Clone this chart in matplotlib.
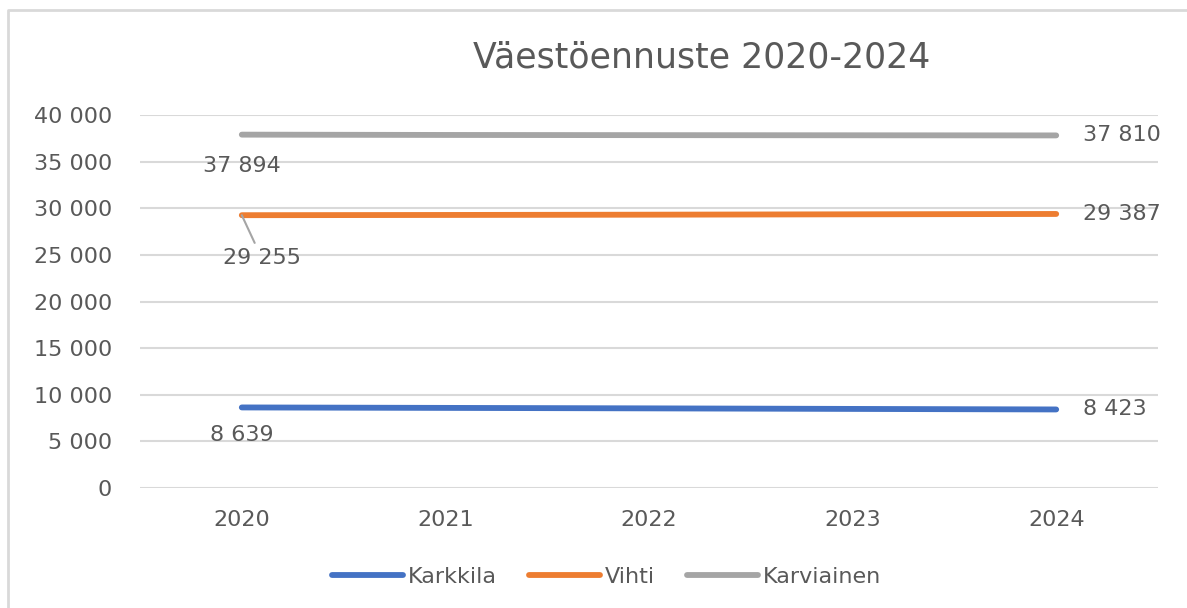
import matplotlib.pyplot as plt
from matplotlib.lines import Line2D
from matplotlib.ticker import FuncFormatter, MultipleLocator

plt.rcParams['font.family'] = ['DejaVu Sans']

years = ['2020', '2021', '2022', '2023', '2024']
karkkila = [8639, 8590, 8540, 8480, 8423]
vihti = [29255, 29280, 29310, 29350, 29387]
karviainen = [37894, 37860, 37840, 37825, 37810]

names = ['Karkkila', 'Vihti', 'Karviainen']
colors = ['#4472C4', '#ED7D31', '#A5A5A5']
series = [karkkila, vihti, karviainen]

txt_color = '#595959'
grid_color = '#D9D9D9'
fs = 16

fig = plt.figure(figsize=(11.87, 6.08), dpi=100)
ax = fig.add_axes([140 / 1187, 1 - 488 / 608, 1018 / 1187, 373 / 608])

x = list(range(len(years)))
for vals, name, col in zip(series, names, colors):
    ax.plot(x, vals, color=col, lw=4.2, solid_capstyle='round', label=name)

ax.set_xlim(-0.5, 4.5)
ax.set_ylim(0, 40000)
ax.yaxis.set_major_locator(MultipleLocator(5000))
ax.yaxis.set_major_formatter(FuncFormatter(lambda v, p: f"{v:,.0f}".replace(",", " ")))
ax.set_xticks(x)
ax.set_xticklabels(years)
ax.grid(axis='y', color=grid_color, lw=1.5)
ax.set_axisbelow(True)
for s in ax.spines.values():
    s.set_visible(False)
ax.tick_params(axis='both', length=0, labelsize=fs, labelcolor=txt_color)
ax.tick_params(axis='y', pad=20)
ax.tick_params(axis='x', pad=16)

# data labels, first and last point
def fmt(v):
    return f"{v:,.0f}".replace(",", " ")

first_offsets = [(0, -28), (20, -43), (0, -31)]
for vals, off in zip(series, first_offsets):
    if off[0] == 0:
        ax.annotate(fmt(vals[0]), (0, vals[0]), xytext=off, textcoords='offset pixels',
                    ha='center', va='center', fontsize=fs, color=txt_color)
    else:
        ax.annotate(fmt(vals[0]), (0, vals[0]), xytext=off, textcoords='offset pixels',
                    ha='center', va='center', fontsize=fs, color=txt_color,
                    arrowprops=dict(arrowstyle='-', color='#A5A5A5', lw=1.5,
                                    shrinkA=2, shrinkB=0))
for vals in series:
    ax.annotate(fmt(vals[-1]), (4, vals[-1]), xytext=(27, 0), textcoords='offset pixels',
                ha='left', va='center', fontsize=fs, color=txt_color)

fig.text(702 / 1187, 1 - 58 / 608, 'Väestöennuste 2020-2024', ha='center', va='center',
         fontsize=25, color=txt_color)

fig.legend(loc='center', bbox_to_anchor=(0.511, 1 - 577 / 608), ncol=3, frameon=False,
           fontsize=fs, labelcolor=txt_color, handlelength=3.2, handletextpad=0.2,
           columnspacing=1.45)

# chart border (left and top edges only, the rest is cut off)
top = 1 - 10 / 608
left = 8 / 1187
fig.add_artist(Line2D([left, left, 1.0], [0.0, top, top], transform=fig.transFigure,
                      color=grid_color, lw=2))

fig.savefig('out.png', dpi=100)
